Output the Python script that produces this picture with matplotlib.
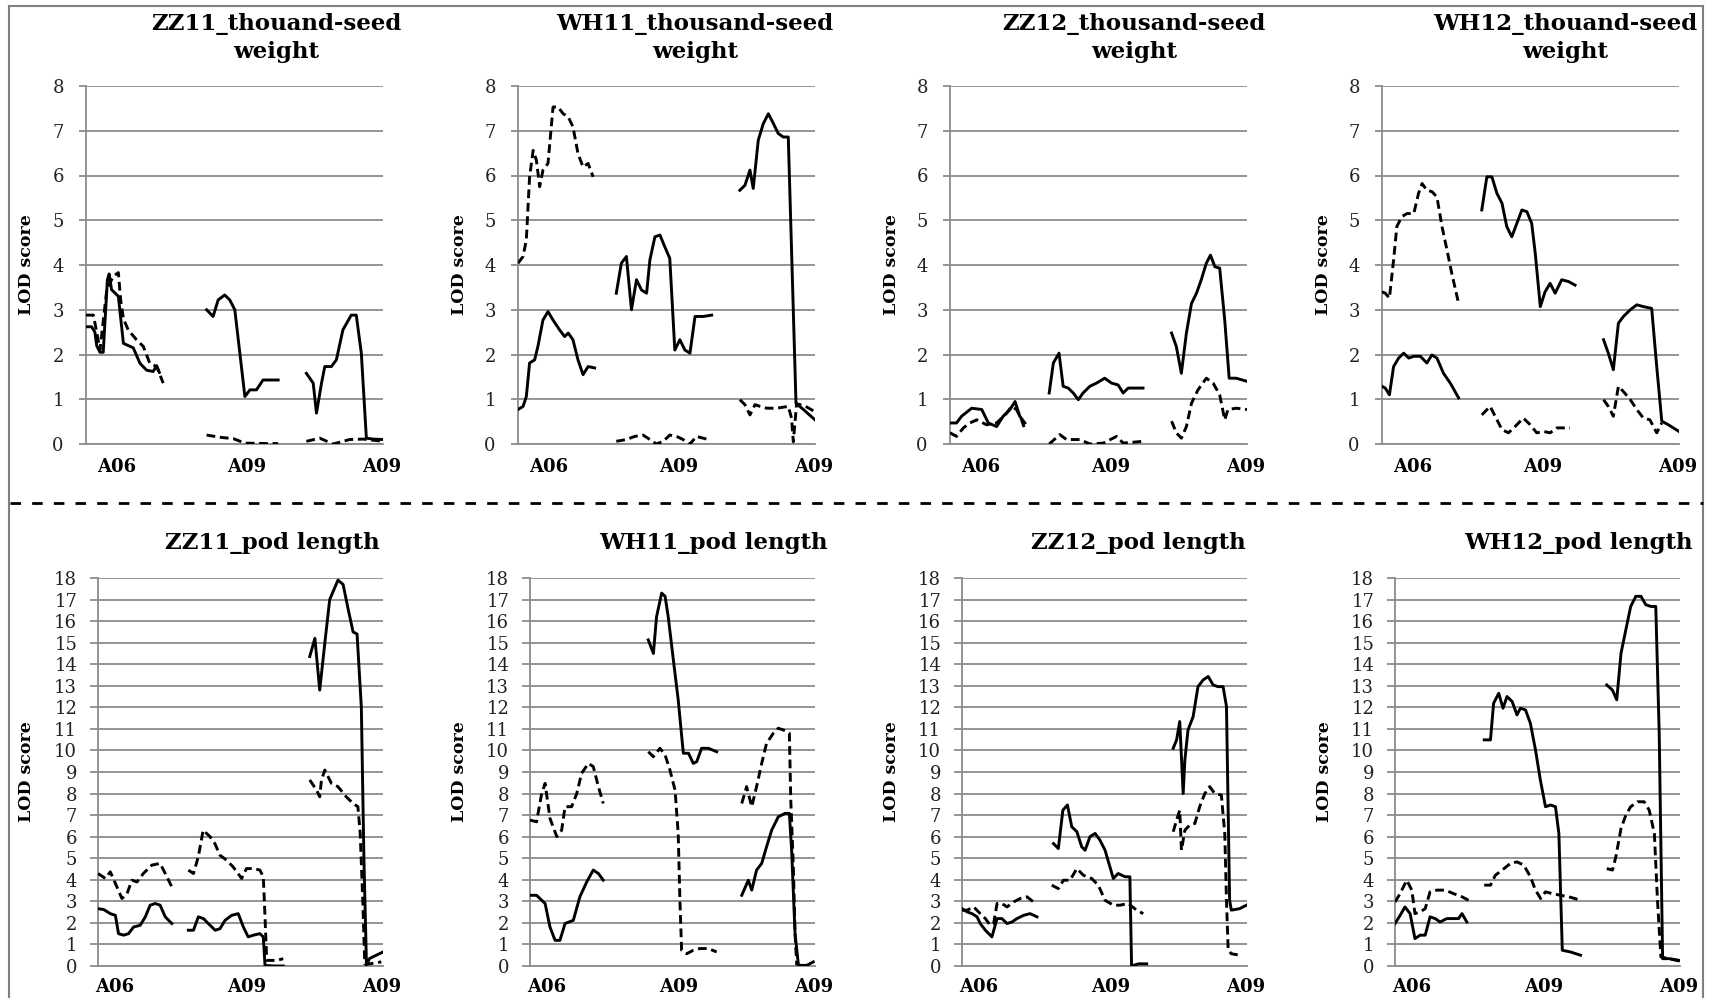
import numpy as np
import matplotlib
matplotlib.use("Agg")
import matplotlib.pyplot as plt
from matplotlib.lines import Line2D

# LOD profiles (x = position along the axis in %, None = gap between chromosome blocks)
tsw_zz11_solid_x = [0, 1.9, 3, 3.6, 4.7, 5.8, 7.2, 7.8, 8.6, 9.8, 10.9, 11.7, 12.6, 14.2, 15.9, 18.2, 20.4, 22.6, 23.8, 24.7, None,
                    40.6, 42.8, 44.5, 46.7, 48.4, 50.1, 51.8, 53.5, 55.2, 57.4, 59.6, 61.9, 64.7, None,
                    74.2, 76.5, 77.6, 79.3, 80.4, 82.6, 84.3, 86.5, 89.3, 91.0, 92.7, 94.4, 96.6, 100]
tsw_zz11_solid_y = [2.62, 2.62, 2.5, 2.2, 2.05, 2.05, 3.67, 3.8, 3.45, 3.37, 3.3, 2.8, 2.25, 2.2, 2.15, 1.8, 1.65, 1.62, 1.75, 1.6, None,
                    3.0, 2.85, 3.22, 3.33, 3.22, 3.0, 2.03, 1.06, 1.21, 1.21, 1.43, 1.43, 1.43, None,
                    1.58, 1.36, 0.69, 1.36, 1.73, 1.73, 1.88, 2.55, 2.88, 2.88, 2.03, 0.13, 0.11, 0.1]
tsw_zz11_dash_x = [0, 2.5, 3.6, 4.7, 7.0, 9.2, 10.9, 11.7, 12.6, 14.2, 17.0, 19.3, 21.5, 23.8, 26.0, None,
                   40.6, 45.1, 49.6, 53.5, 60.8, 64.7, None,
                   74.2, 78.7, 83.2, 88.8, 93.3, 100]
tsw_zz11_dash_y = [2.88, 2.88, 2.5, 2.1, 3.45, 3.75, 3.83, 3.2, 2.8, 2.55, 2.33, 2.18, 1.8, 1.73, 1.36, None,
                   0.2, 0.15, 0.12, 0.02, 0.01, 0.01, None,
                   0.06, 0.13, 0.0, 0.1, 0.11, 0.06]

tsw_wh11_solid_x = [0, 1.7, 2.8, 3.9, 5.6, 6.7, 8.4, 10.1, 11.8, 14.0, 15.7, 16.9, 18.5, 20.2, 21.9, 23.6, 25.8, None,
                    33.1, 34.8, 36.5, 38.2, 39.9, 41.6, 43.3, 44.4, 46.1, 47.8, 49.4, 51.1, 52.8, 54.5, 56.2, 57.9, 59.6, 62.4, 65.2, None,
                    74.7, 76.4, 78.1, 79.2, 80.9, 82.6, 84.3, 86.0, 87.6, 89.3, 91.0, 93.6, 96.1, 100]
tsw_wh11_solid_y = [0.77, 0.84, 1.06, 1.81, 1.88, 2.18, 2.77, 2.96, 2.77, 2.55, 2.4, 2.48, 2.33, 1.88, 1.55, 1.73, 1.7, None,
                    3.37, 4.04, 4.19, 3.0, 3.67, 3.44, 3.37, 4.11, 4.63, 4.67, 4.41, 4.15, 2.1, 2.33, 2.1, 2.03, 2.85, 2.85, 2.88, None,
                    5.67, 5.78, 6.12, 5.71, 6.79, 7.16, 7.38, 7.16, 6.94, 6.86, 6.86, 0.91, 0.77, 0.54]
tsw_wh11_dash_x = [0, 1.7, 2.8, 3.9, 5.1, 6.2, 7.3, 8.4, 10.1, 11.8, 13.5, 15.2, 16.9, 18.5, 20.2, 21.9, 23.6, 25.3, None,
                   33.1, 36.5, 39.3, 42.1, 44.4, 46.6, 48.9, 51.1, 53.4, 55.6, 57.9, 60.1, 63.5, None,
                   74.7, 76.4, 78.1, 79.8, 81.5, 83.7, 87.1, 91.0, 92.1, 92.7, 93.8, 96.6, 100]
tsw_wh11_dash_y = [4.04, 4.19, 4.56, 5.97, 6.56, 6.34, 5.75, 6.12, 6.27, 7.53, 7.53, 7.38, 7.31, 7.09, 6.49, 6.19, 6.27, 5.97, None,
                   0.06, 0.1, 0.17, 0.2, 0.1, 0.0, 0.06, 0.2, 0.17, 0.1, 0.0, 0.17, 0.11, None,
                   0.99, 0.88, 0.65, 0.88, 0.84, 0.8, 0.8, 0.84, 0.58, 0.05, 0.9, 0.85, 0.72]

tsw_zz12_solid_x = [0, 2.2, 3.9, 7.3, 10.7, 12.9, 15.7, 17.9, 20.2, 21.9, 23.5, 25.2, None,
                    33.4, 34.8, 36.7, 38.1, 39.8, 41.5, 43.2, 44.8, 47.1, 49.3, 52.1, 54.4, 56.6, 58.3, 60.0, 65.0, None,
                    74.6, 76.2, 77.9, 79.6, 81.3, 83.0, 84.6, 86.3, 87.7, 89.2, 90.8, 92.5, 94.0, 96.4, 100]
tsw_zz12_solid_y = [0.47, 0.47, 0.62, 0.8, 0.77, 0.47, 0.39, 0.62, 0.77, 0.95, 0.62, 0.47, None,
                    1.14, 1.81, 2.03, 1.29, 1.25, 1.14, 0.99, 1.14, 1.29, 1.36, 1.47, 1.36, 1.32, 1.14, 1.25, 1.25, None,
                    2.48, 2.18, 1.58, 2.48, 3.14, 3.37, 3.67, 4.04, 4.22, 3.96, 3.93, 2.77, 1.47, 1.47, 1.4]
tsw_zz12_dash_x = [0, 2.2, 4.5, 6.7, 9.0, 12.3, 15.7, 19.1, 20.7, 22.4, 24.1, 25.2, None,
                   33.4, 37.0, 39.2, 43.7, 47.1, 51.6, 56.1, 58.3, 65.0, None,
                   74.6, 76.2, 77.9, 79.6, 81.3, 83.5, 86.3, 88.6, 90.8, 92.5, 93.6, 96.4, 100]
tsw_zz12_dash_y = [0.25, 0.17, 0.36, 0.47, 0.54, 0.43, 0.47, 0.69, 0.84, 0.77, 0.54, 0.32, None,
                   0.0, 0.21, 0.1, 0.1, 0.0, 0.02, 0.17, 0.02, 0.06, None,
                   0.51, 0.25, 0.13, 0.39, 0.91, 1.21, 1.47, 1.36, 1.1, 0.54, 0.77, 0.8, 0.77]

tsw_wh12_solid_x = [0, 1.1, 2.5, 3.9, 5.6, 7.3, 9.0, 10.7, 12.9, 15.1, 16.8, 18.5, 20.7, 23.0, 25.8, None,
                    33.6, 35.3, 37.0, 38.7, 40.4, 42.0, 43.7, 45.4, 47.1, 48.8, 50.4, 51.6, 53.3, 54.9, 56.6, 58.3, 60.5, 62.8, 65.0, None,
                    74.6, 76.2, 77.9, 79.6, 81.3, 83.6, 85.8, 88.0, 90.8, 92.5, 94.2, 96.4, 100]
tsw_wh12_solid_y = [1.29, 1.25, 1.1, 1.73, 1.92, 2.03, 1.92, 1.96, 1.96, 1.81, 1.99, 1.92, 1.58, 1.36, 1.03, None,
                    5.23, 5.97, 5.97, 5.6, 5.38, 4.86, 4.63, 4.93, 5.23, 5.19, 4.93, 4.26, 3.07, 3.4, 3.59, 3.37, 3.67, 3.63, 3.55, None,
                    2.33, 2.03, 1.66, 2.7, 2.85, 3.0, 3.11, 3.07, 3.03, 1.73, 0.51, 0.43, 0.28]
tsw_wh12_dash_x = [0, 1.1, 2.5, 3.9, 5.0, 6.7, 8.4, 10.7, 12.3, 13.5, 15.1, 16.8, 18.5, 20.2, 21.9, 23.5, 25.8, None,
                   33.6, 36.4, 38.1, 40.4, 42.6, 44.8, 47.6, 49.9, 52.1, 54.4, 56.6, 58.9, 63.3, None,
                   74.6, 76.2, 77.9, 79.6, 81.3, 83.6, 85.8, 88.0, 90.2, 92.5, 94.2]
tsw_wh12_dash_y = [3.4, 3.37, 3.26, 4.11, 4.86, 5.08, 5.15, 5.15, 5.6, 5.82, 5.67, 5.64, 5.52, 4.86, 4.33, 3.81, 3.14, None,
                   0.65, 0.84, 0.62, 0.32, 0.25, 0.39, 0.58, 0.43, 0.25, 0.28, 0.25, 0.36, 0.36, None,
                   0.99, 0.84, 0.62, 1.29, 1.17, 0.99, 0.77, 0.58, 0.54, 0.25, 0.47]

pod_zz11_solid_x = [0, 2.0, 4.3, 6.1, 7.2, 9.0, 10.7, 12.5, 14.8, 16.6, 18.3, 20.1, 21.8, 23.6, 25.9, None,
                    31.7, 33.5, 35.2, 37.0, 38.7, 41.1, 42.8, 44.6, 46.9, 49.2, 51.0, 52.7, 54.5, 56.8, 58.0, 58.6, 61.5, 65.0, None,
                    74.3, 76.1, 77.8, 79.6, 81.3, 84.2, 86.0, 87.7, 89.5, 90.9, 92.4, 93.3, 94.2, 95.3, 100]
pod_zz11_solid_y = [2.66, 2.62, 2.43, 2.35, 1.5, 1.43, 1.5, 1.81, 1.89, 2.28, 2.82, 2.9, 2.82, 2.28, 1.97, None,
                    1.66, 1.66, 2.28, 2.2, 1.97, 1.66, 1.73, 2.12, 2.35, 2.43, 1.81, 1.35, 1.43, 1.5, 1.35, 0.03, 0.0, 0.0, None,
                    14.36, 15.2, 12.8, 15.0, 17.0, 17.9, 17.7, 16.6, 15.5, 15.4, 12.0, 5.0, 0.05, 0.35, 0.65]
pod_zz11_dash_x = [0, 2.6, 4.3, 6.1, 8.4, 10.2, 11.9, 13.7, 15.9, 18.9, 21.8, 23.6, 25.9, None,
                   31.7, 33.5, 35.2, 36.9, 39.3, 41.0, 42.8, 45.1, 47.4, 50.4, 52.1, 54.5, 56.8, 58.0, 58.6, 59.2, 60.9, 62.7, 65.0, None,
                   74.3, 76.7, 77.8, 78.4, 79.6, 81.9, 84.2, 87.1, 89.5, 91.2, 92.0, 92.9, 93.6, 95.3, 97.1, 99.4]
pod_zz11_dash_y = [4.29, 4.06, 4.37, 3.83, 3.13, 3.36, 3.98, 3.9, 4.29, 4.68, 4.76, 4.29, 3.67, None,
                   4.45, 4.29, 5.07, 6.3, 6.0, 5.68, 5.14, 4.91, 4.6, 4.06, 4.52, 4.52, 4.45, 4.14, 2.28, 0.26, 0.26, 0.26, 0.34, None,
                   8.63, 8.16, 7.85, 8.63, 9.09, 8.47, 8.32, 7.85, 7.54, 7.39, 6.15, 3.05, 0.1, 0.1, 0.14, 0.19]

pod_wh11_solid_x = [0, 2.3, 5.3, 7.0, 8.8, 10.5, 12.3, 15.2, 17.5, 19.9, 22.2, 24.0, 25.7, None,
                    41.5, 43.3, 44.4, 46.2, 47.4, 48.5, 50.3, 52.0, 53.8, 55.6, 57.3, 58.5, 60.2, 62.6, 65.5, None,
                    74.3, 76.6, 77.8, 79.5, 81.3, 83.0, 84.8, 87.1, 89.5, 91.0, 91.8, 93.0, 94.2, 97.1, 99.4]
pod_wh11_solid_y = [3.28, 3.28, 2.9, 1.81, 1.19, 1.19, 1.97, 2.12, 3.21, 3.9, 4.45, 4.29, 3.98, None,
                    15.13, 14.5, 16.2, 17.3, 17.15, 16.2, 14.2, 12.35, 9.87, 9.87, 9.4, 9.48, 10.1, 10.1, 9.94, None,
                    3.28, 3.98, 3.52, 4.45, 4.76, 5.53, 6.3, 6.92, 7.08, 7.08, 5.38, 1.5, 0.03, 0.03, 0.19]
pod_wh11_dash_x = [0, 2.3, 4.1, 5.3, 7.0, 9.4, 11.1, 12.3, 14.6, 16.4, 18.1, 20.5, 22.2, 24.0, 25.7, None,
                   41.5, 43.3, 45.6, 47.4, 49.1, 50.9, 52.0, 52.6, 53.2, 55.0, 57.3, 59.6, 62.6, 65.5, None,
                   74.3, 76.0, 77.8, 79.5, 81.3, 83.0, 85.4, 87.1, 88.9, 91.0, 91.5, 92.4, 93.0, 93.6]
pod_wh11_dash_y = [6.77, 6.69, 8.0, 8.47, 6.85, 6.0, 6.3, 7.39, 7.39, 8.0, 8.94, 9.4, 9.25, 8.32, 7.54, None,
                   9.94, 9.71, 10.1, 9.79, 9.09, 8.16, 6.15, 3.05, 0.73, 0.57, 0.73, 0.81, 0.81, 0.65, None,
                   7.54, 8.32, 7.39, 8.32, 9.4, 10.33, 10.8, 11.03, 10.95, 10.8, 7.7, 4.6, 1.5, 0.03]

pod_zz12_solid_x = [0, 1.8, 3.5, 5.3, 6.4, 8.2, 10.5, 12.3, 14.0, 15.8, 17.5, 19.3, 21.6, 23.9, 26.3, None,
                    32.1, 33.8, 35.4, 37.0, 38.5, 40.3, 42.0, 43.2, 44.9, 46.7, 48.4, 50.2, 51.9, 53.1, 54.8, 57.2, 58.9, 59.5, 61.9, 64.8, None,
                    74.1, 75.3, 76.4, 77.6, 78.2, 79.3, 81.1, 82.8, 84.6, 86.4, 88.1, 89.8, 91.6, 92.8, 93.9, 94.5, 97.4, 99.8]
pod_zz12_solid_y = [2.66, 2.51, 2.43, 2.28, 1.97, 1.66, 1.35, 2.2, 2.2, 1.97, 2.04, 2.2, 2.35, 2.43, 2.28, None,
                    5.68, 5.45, 7.23, 7.47, 6.46, 6.23, 5.53, 5.37, 6.0, 6.15, 5.84, 5.37, 4.6, 4.06, 4.29, 4.14, 4.14, 0.0, 0.1, 0.1, None,
                    10.1, 10.49, 11.34, 8.0, 9.56, 10.95, 11.57, 12.96, 13.27, 13.43, 13.04, 12.96, 12.96, 12.04, 3.05, 2.59, 2.66, 2.82]
pod_zz12_dash_x = [0, 1.8, 4.1, 6.4, 8.2, 9.9, 11.1, 12.3, 14.0, 15.8, 18.1, 20.4, 22.8, 25.1, None,
                   31.5, 33.8, 35.6, 37.9, 40.3, 42.6, 45.5, 47.8, 50.2, 53.1, 55.4, 58.3, 61.3, 63.6, None,
                   74.1, 75.3, 76.4, 77.0, 78.2, 79.9, 81.7, 83.4, 85.2, 86.9, 88.7, 91.0, 92.2, 92.8, 93.4, 94.5, 97.4]
pod_zz12_dash_y = [2.59, 2.59, 2.74, 2.43, 2.2, 1.89, 1.97, 2.9, 2.9, 2.74, 2.97, 3.13, 3.21, 2.97, None,
                   3.75, 3.59, 3.98, 3.98, 4.52, 4.21, 4.06, 3.75, 3.05, 2.82, 2.82, 2.9, 2.59, 2.43, None,
                   6.23, 6.77, 7.23, 5.37, 6.3, 6.54, 6.61, 7.39, 8.0, 8.32, 8.0, 7.93, 6.15, 3.05, 0.73, 0.57, 0.5]

pod_wh12_solid_x = [0, 1.8, 3.5, 5.3, 7.0, 8.8, 10.6, 12.3, 14.1, 15.8, 18.2, 20.5, 22.3, 23.5, 25.2, None,
                    31.3, 33.5, 34.6, 36.4, 37.9, 39.3, 41.1, 42.8, 44.0, 45.8, 47.5, 49.3, 51.0, 52.8, 54.6, 56.3, 57.5, 58.7, 61.6, 65.1, None,
                    74.3, 76.3, 77.8, 79.3, 81.0, 82.7, 84.5, 86.3, 88.0, 89.8, 91.5, 92.7, 93.9, 96.2, 99.8]
pod_wh12_solid_y = [1.97, 2.35, 2.74, 2.43, 1.27, 1.43, 1.43, 2.28, 2.2, 2.04, 2.2, 2.2, 2.2, 2.43, 2.04, None,
                    10.49, 10.49, 12.19, 12.65, 11.96, 12.5, 12.27, 11.65, 11.96, 11.88, 11.26, 10.02, 8.63, 7.39, 7.47, 7.39, 6.15, 0.73, 0.65, 0.5, None,
                    13.04, 12.8, 12.35, 14.51, 15.6, 16.68, 17.15, 17.15, 16.76, 16.68, 16.68, 10.8, 0.34, 0.34, 0.26]
pod_wh12_dash_x = [0, 1.8, 4.1, 5.9, 7.0, 8.8, 10.6, 12.3, 14.7, 17.6, 20.5, 23.5, 25.8, None,
                   31.3, 33.5, 35.2, 37.6, 40.5, 42.8, 45.2, 47.5, 49.3, 51.1, 52.8, 55.2, 58.1, 61.0, 65.1, None,
                   74.3, 76.3, 77.5, 79.3, 81.0, 82.7, 85.1, 87.4, 89.2, 91.0, 92.1, 93.3, 96.2, 99.8]
pod_wh12_dash_y = [2.97, 3.36, 3.98, 3.52, 2.43, 2.51, 2.66, 3.44, 3.52, 3.52, 3.36, 3.21, 3.05, None,
                   3.75, 3.75, 4.21, 4.45, 4.76, 4.83, 4.68, 4.14, 3.52, 3.13, 3.44, 3.36, 3.28, 3.21, 3.05, None,
                   4.52, 4.45, 5.07, 6.38, 7.0, 7.39, 7.62, 7.62, 7.23, 6.15, 3.05, 0.42, 0.34, 0.23]

tsw_titles = ["ZZ11_thouand-seed\nweight", "WH11_thousand-seed\nweight",
              "ZZ12_thousand-seed\nweight", "WH12_thouand-seed\nweight"]
pod_titles = ["ZZ11_pod length", "WH11_pod length", "ZZ12_pod length", "WH12_pod length"]
chrom_labels = ["A06", "A09", "A09"]
tsw_label_pos = [10.4, 54, 99.5]
pod_label_pos = [6, 52, 99.5]

W, H = 1710, 998
plt.rcParams['font.family'] = ['DejaVu Serif']
fig = plt.figure(figsize=(W / 100, H / 100), dpi=100)

GRID = '#8c8c8c'


def draw_panel(rect, sx, sy, dx, dy, ymax, label_pos, ylab_off, tick_len, tick_pad, xpad):
    ax = fig.add_axes(rect)
    ax.plot(np.array(sx, dtype=float), np.array(sy, dtype=float), color='black', lw=2.1,
            solid_joinstyle='round', zorder=3)
    ax.plot(np.array(dx, dtype=float), np.array(dy, dtype=float), color='black', lw=2.1,
            linestyle=(0, (3, 1.6)), zorder=3)
    ax.set_xlim(0, 100)
    ax.set_ylim(0, ymax)
    ax.set_yticks(range(0, ymax + 1))
    ax.yaxis.grid(True, color=GRID, lw=1.3)
    ax.set_axisbelow(True)
    for s in ['top', 'right']:
        ax.spines[s].set_visible(False)
    ax.spines['left'].set_color(GRID)
    ax.spines['left'].set_linewidth(1.3)
    ax.spines['bottom'].set_color(GRID)
    ax.spines['bottom'].set_linewidth(1.3)
    ax.tick_params(axis='y', length=tick_len, width=1.3, color=GRID, pad=tick_pad,
                   labelsize=13, labelcolor='#222222')
    ax.set_xticks(label_pos)
    ax.set_xticklabels(chrom_labels, fontsize=13, fontweight='bold')
    ax.tick_params(axis='x', length=0, pad=xpad)
    ax.set_ylabel('LOD score', fontsize=12.5, fontweight='bold', va='center')
    ax.yaxis.set_label_coords(ylab_off, 0.5)
    return ax


tsw_series = [(tsw_zz11_solid_x, tsw_zz11_solid_y, tsw_zz11_dash_x, tsw_zz11_dash_y),
              (tsw_wh11_solid_x, tsw_wh11_solid_y, tsw_wh11_dash_x, tsw_wh11_dash_y),
              (tsw_zz12_solid_x, tsw_zz12_solid_y, tsw_zz12_dash_x, tsw_zz12_dash_y),
              (tsw_wh12_solid_x, tsw_wh12_solid_y, tsw_wh12_dash_x, tsw_wh12_dash_y)]
pod_series = [(pod_zz11_solid_x, pod_zz11_solid_y, pod_zz11_dash_x, pod_zz11_dash_y),
              (pod_wh11_solid_x, pod_wh11_solid_y, pod_wh11_dash_x, pod_wh11_dash_y),
              (pod_zz12_solid_x, pod_zz12_solid_y, pod_zz12_dash_x, pod_zz12_dash_y),
              (pod_wh12_solid_x, pod_wh12_solid_y, pod_wh12_dash_x, pod_wh12_dash_y)]

# layout in pixels of the original picture
top_left = [86, 518, 950, 1382]
bot_left = [98, 530, 962, 1395]
top_title_x = [276, 695, 1134, 1565]
bot_title_x = [272, 713, 1138, 1578]

for i in range(4):
    rect = [top_left[i] / W, (H - 444) / H, 297 / W, 358 / H]
    draw_panel(rect, *tsw_series[i], 8, tsw_label_pos, -59 / 297, 5, 11, 10)
    fig.text(top_title_x[i] / W, 1 - 38 / H, tsw_titles[i], ha='center', va='center',
             fontsize=16.5, fontweight='bold', linespacing=1.3)

    rect = [bot_left[i] / W, (H - 966) / H, 285 / W, 388 / H]
    draw_panel(rect, *pod_series[i], 18, pod_label_pos, -71 / 285, 6, 9, 8.5)
    fig.text(bot_title_x[i] / W, 1 - 543 / H, pod_titles[i], ha='center', va='center',
             fontsize=16.5, fontweight='bold')

# frame and separator
frame_kw = dict(color='#808080', lw=1.5, transform=fig.transFigure)
fig.add_artist(Line2D([8.5 / W, 8.5 / W], [0, 1 - 6 / H], **frame_kw))
fig.add_artist(Line2D([8.5 / W, 1703 / W], [1 - 6 / H, 1 - 6 / H], **frame_kw))
fig.add_artist(Line2D([1703 / W, 1703 / W], [0, 1 - 6 / H], **frame_kw))
fig.add_artist(Line2D([10 / W, 1703 / W], [1 - 503 / H, 1 - 503 / H], color='black', lw=2,
                      linestyle=(0, (3.8, 4)), transform=fig.transFigure))

fig.savefig('out.png', dpi=100)
